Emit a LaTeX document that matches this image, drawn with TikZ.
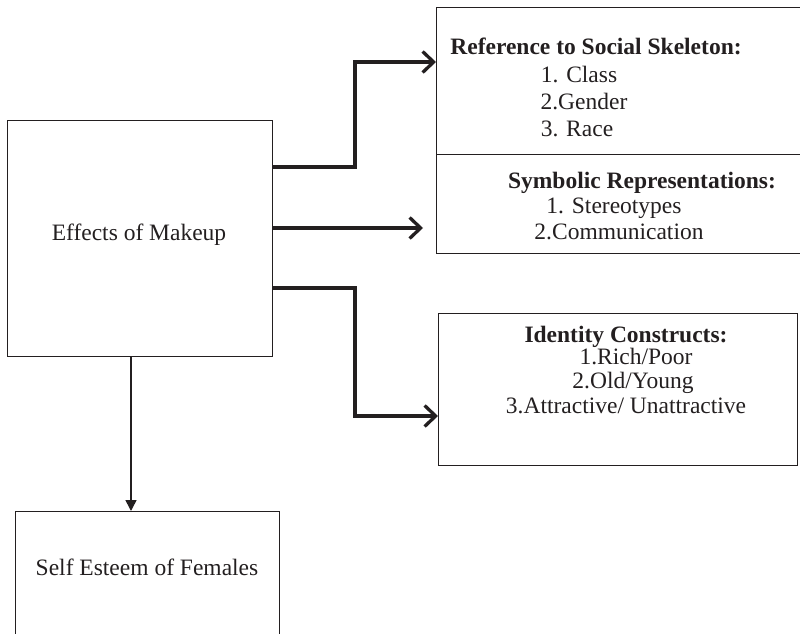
\documentclass[tikz,border=0pt]{standalone}
\usepackage{fontspec}
\setmainfont{Liberation Serif}
\usetikzlibrary{arrows.meta}
\definecolor{ink}{RGB}{35,31,32}
\tikzset{
  box/.style={draw=ink, line width=1.2pt, inner sep=0pt, anchor=north west},
  txt/.style={text=ink, inner sep=0pt, anchor=base, font=\fontsize{23.5}{26}\selectfont},
  hdr/.style={txt, font=\fontsize{23.5}{26}\selectfont\bfseries},
  thickarr/.style={draw=ink, line width=3.5pt, -{Straight Barb[length=11pt,width=21pt,line width=3.3pt]}},
  thinarr/.style={draw=ink, line width=1.5pt, -{Triangle[length=11pt,width=11pt]}},
}
\begin{document}
\begin{tikzpicture}[x=1pt,y=-1pt]
\useasboundingbox (0,0) rectangle (800,634);
\clip (0,0) rectangle (800,634);
% boxes
\node[box, minimum width=265pt, minimum height=236pt] (main) at (7,120) {};
\node[box, minimum width=264pt, minimum height=140pt] (self) at (15,511) {};
\node[box, minimum width=380pt, minimum height=147pt] (ref) at (436,7) {};
\node[box, minimum width=380pt, minimum height=99pt] (sym) at (436,154) {};
\node[box, minimum width=359pt, minimum height=152pt] (idc) at (438,313) {};
% texts
\node[txt] (maint) at (139,240) {Effects of Makeup};
\node[txt] (selft) at (147,575) {Self Esteem of Females};
\node[hdr] (refh) at (596,55) {Reference to Social Skeleton:};
\node[txt] (ref1) at (579,82) {1. Class};
\node[txt] (ref2) at (584,109) {2.Gender};
\node[txt] (ref3) at (577,136) {3. Race};
\node[hdr] (symh) at (642,188) {Symbolic Representations:};
\node[txt] (sym1) at (614,213) {1. Stereotypes};
\node[txt] (sym2) at (619,239) {2.Communication};
\node[hdr] (idch) at (626,342) {Identity Constructs:};
\node[txt] (idc1) at (636,364) {1.Rich/Poor};
\node[txt] (idc2) at (633,388) {2.Old/Young};
\node[txt] (idc3) at (626,413) {3.Attractive/ Unattractive};
% routing coordinates
\coordinate (ya) at (0,167);
\coordinate (yb) at (0,228);
\coordinate (yc) at (0,288);
\coordinate (ta) at (0,62);
\coordinate (tc) at (0,416);
\coordinate (xk) at (355,0);
\coordinate (xd) at (131,0);
\coordinate (tipb) at (423,228);
% connectors
\draw[thickarr] (main.east |- ya) -- (xk |- ya) -- (xk |- ta) -- (ref.west |- ta);
\draw[thickarr] (main.east |- yb) -- (tipb);
\draw[thickarr] (main.east |- yc) -- (xk |- yc) -- (xk |- tc) -- (idc.west |- tc);
\draw[thinarr] (main.south -| xd) -- (self.north -| xd);
\end{tikzpicture}
\end{document}
